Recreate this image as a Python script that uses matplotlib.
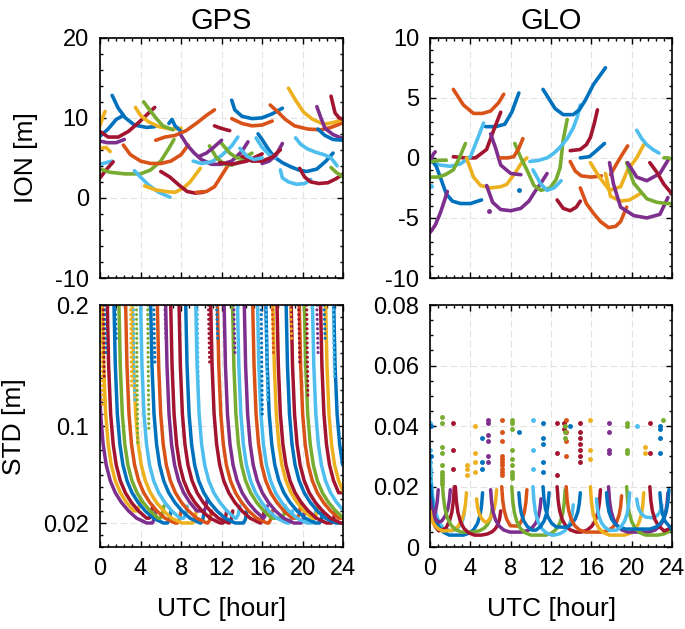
import matplotlib
matplotlib.use("Agg")
import matplotlib.pyplot as plt
from matplotlib.ticker import MultipleLocator, FixedLocator

plt.rcParams["font.family"] = ["Liberation Sans", "DejaVu Sans"]
plt.rcParams["axes.unicode_minus"] = False

# MATLAB default line colours, picked by satellite number
color_order = ["#0072BD", "#D95319", "#EDB120", "#7E2F8E", "#77AC30", "#4DBEEE", "#A2142F"]


def sat_color(sat):
    return color_order[(sat - 1) % 7]


# ---------------- GPS ionosphere arcs (hour, m) ----------------
gps_ion_sat = [3, 1, 8, 7, 4, 10, 5, 15, 2, 14, 22, 9, 16, 17, 21, 18,
               6, 24, 28, 12, 13, 31, 23, 35, 30, 11, 20, 19, 42, 36, 27, 25,
               34, 41, 49, 26, 43, 33, 56, 39, 48]
gps_ion_t = [
    [0.0, 0.3, 0.5],
    [0.0, 0.8, 1.6, 2.3],
    [1.2, 1.8, 2.5, 3.4, 4.6, 5.4],
    [0.0, 0.8, 1.8, 2.8, 3.8, 4.8, 5.4],
    [0.0, 0.7, 1.6, 2.4],
    [3.5, 4.0, 4.8, 5.8, 7.0, 8.0],
    [4.3, 4.9, 5.5, 6.2, 7.2],
    [6.8, 7.1, 7.4, 8.0],
    [5.5, 6.4, 7.4, 8.5, 9.6, 10.5, 11.3],
    [11.3, 11.7, 12.2, 12.8],
    [13.0, 13.3, 14.0, 15.0, 16.0, 17.0, 18.0],
    [13.0, 14.0, 15.0, 16.0, 17.0],
    [16.8, 17.5, 18.3, 19.2, 20.5, 21.8, 22.8, 24.0],
    [18.6, 19.3, 20.1, 21.0, 22.1, 23.0, 24.0],
    [22.8, 23.2, 23.6, 24.0],
    [21.4, 21.8, 22.2, 23.0, 24.0],
    [0.0, 0.6, 1.2],
    [0.1, 0.6, 1.0],
    [0.0, 0.6, 1.3],
    [0.0, 1.0, 2.5, 4.0, 5.0, 6.0, 6.8, 7.3],
    [3.4, 4.0, 4.8, 5.8, 6.9],
    [4.4, 5.5, 6.5, 7.4, 8.2, 8.9, 9.9],
    [2.3, 3.0, 4.0, 5.0, 6.0, 7.0, 8.0, 8.7],
    [6.0, 6.9, 7.8, 8.6, 9.4, 10.2],
    [9.5, 10.5, 11.3, 12.0, 12.8],
    [8.0, 8.6, 9.3, 10.0, 11.0, 12.0, 13.0, 14.0, 14.6],
    [9.2, 10.0, 11.0, 12.0, 13.0, 13.6],
    [10.8, 11.5, 12.3, 13.0, 14.0, 14.5],
    [11.8, 13.0, 14.5, 16.0],
    [15.6, 16.0, 16.6, 17.2, 18.0, 18.8, 19.6, 20.4, 21.4, 22.3, 23.0],
    [15.4, 16.0, 16.7, 17.3],
    [16.0, 16.7, 17.4, 18.0],
    [17.8, 18.0, 18.6, 19.4, 20.2, 20.8],
    [19.3, 19.8, 20.5, 21.3, 22.1, 22.8, 23.4],
    [19.7, 20.2, 20.8, 21.6, 22.5, 23.3, 24.0],
    [22.8, 23.3, 24.0],
    [21.5, 22.2, 23.0, 24.0],
    [12.0, 12.8, 13.5, 14.2, 15.0],
    [14.0, 15.0, 16.0, 17.0, 17.8],
    [9.8, 10.5, 11.2, 12.0],
    [13.8, 14.5, 15.2, 16.0],
]
gps_ion_v = [
    [9.0, 10.2, 10.8],
    [7.7, 8.6, 9.8, 10.3],
    [12.8, 11.2, 10.0, 9.1, 8.8, 8.9],
    [8.3, 7.6, 7.6, 8.3, 9.4, 10.6, 11.3],
    [7.1, 6.9, 6.9, 7.3],
    [11.3, 10.3, 9.5, 8.9, 8.6, 8.7],
    [12.0, 11.0, 10.0, 9.0, 8.5],
    [9.3, 9.8, 9.0, 8.3],
    [7.2, 7.6, 7.8, 8.4, 9.4, 10.3, 11.0],
    [9.0, 8.8, 8.6, 8.4],
    [12.2, 11.0, 10.2, 9.9, 10.0, 10.5, 11.2],
    [9.9, 9.3, 9.0, 9.1, 9.6],
    [11.6, 10.8, 9.8, 9.0, 8.6, 8.5, 8.8, 9.4],
    [13.7, 12.2, 10.7, 9.8, 9.2, 9.4, 9.8],
    [12.7, 10.6, 10.0, 9.8],
    [11.4, 10.0, 8.7, 7.9, 7.4],
    [4.2, 4.4, 4.6],
    [6.2, 6.3, 5.8],
    [2.5, 3.5, 4.5],
    [3.6, 3.2, 3.0, 3.0, 3.5, 4.6, 6.2, 7.3],
    [3.4, 2.6, 1.6, 0.7, 0.1],
    [1.5, 1.0, 0.8, 0.7, 1.2, 2.0, 3.7],
    [6.6, 5.4, 4.6, 4.3, 4.3, 4.6, 5.4, 6.6],
    [3.3, 2.6, 1.6, 0.8, 0.6, 0.7],
    [0.7, 0.8, 1.4, 2.8, 4.4],
    [7.8, 6.6, 5.6, 4.8, 4.2, 4.2, 4.6, 5.8, 7.0],
    [4.6, 4.3, 4.5, 5.3, 6.5, 7.6],
    [6.5, 5.0, 4.2, 4.1, 4.6, 5.2],
    [4.4, 4.2, 4.6, 5.5],
    [8.0, 7.3, 6.1, 5.1, 4.4, 3.9, 3.5, 3.3, 3.6, 4.6, 5.6],
    [7.5, 6.3, 5.4, 5.0],
    [4.3, 4.6, 5.4, 6.8],
    [3.5, 2.5, 2.0, 1.7, 1.8, 2.3],
    [7.5, 6.7, 6.1, 5.7, 5.4, 5.0, 4.0],
    [3.7, 2.6, 2.0, 1.8, 1.9, 2.4, 3.0],
    [3.8, 3.2, 2.6],
    [8.6, 7.8, 7.3, 7.2],
    [6.8, 5.6, 5.0, 5.0, 5.6],
    [5.2, 4.6, 4.6, 5.1, 6.0],
    [5.2, 5.6, 6.3, 7.2],
    [6.2, 5.2, 4.8, 5.0],
]

# ---------------- GLONASS ionosphere arcs (hour, m) ----------------
glo_ion_sat = [2, 1, 7, 6, 8, 4, 11, 5, 12, 3, 18, 25, 19, 9, 13, 27,
               15, 14, 16, 23, 30, 21, 22, 10, 17, 32, 26, 39, 28, 20, 33]
glo_ion_t = [
    [2.3, 3.3, 4.3, 5.2, 6.0, 6.8, 7.3],
    [5.5, 6.5, 7.4, 8.1, 8.8],
    [2.3, 3.4, 4.5, 5.6, 6.3, 7.0],
    [0.0, 1.0, 2.0, 3.0, 4.0, 4.8, 5.3],
    [0.0, 0.6, 1.0, 1.6, 2.2, 3.0, 4.0, 5.1],
    [0.0, 0.5, 1.0, 1.4, 1.7],
    [0.0, 0.3, 0.5],
    [0.0, 0.8, 1.5, 2.3, 2.9, 3.5],
    [0.2, 0.9, 1.6],
    [3.6, 4.3, 5.0, 6.0, 7.0, 7.6, 8.4, 9.0, 9.6],
    [5.6, 6.2, 7.0, 8.0, 9.0, 9.8, 10.4, 11.0, 11.6],
    [6.0, 6.5, 7.0, 8.0, 9.0],
    [8.4, 9.0, 9.6, 10.3, 11.0, 11.9, 12.5, 12.9, 13.2, 13.6],
    [7.0, 7.7, 8.3, 8.8, 9.2],
    [9.9, 10.8, 11.6, 12.3, 12.9, 13.6, 14.2, 14.6, 14.9],
    [10.2, 11.0, 11.6, 12.3, 13.0],
    [11.2, 11.8, 12.4, 13.2, 14.2, 14.8, 15.4, 16.2, 16.8, 17.4],
    [13.9, 14.9, 15.5, 15.9, 16.3, 16.6],
    [13.9, 14.4, 15.0, 16.0, 17.0],
    [14.9, 15.5, 16.2, 16.9, 17.7, 18.4, 18.9, 19.5],
    [17.9, 18.5, 19.0, 19.6],
    [12.6, 13.2, 13.9, 14.5, 14.9],
    [14.9, 15.8, 16.5, 17.3],
    [15.9, 16.8, 17.8, 18.9, 19.6, 20.5, 21.2],
    [17.4, 17.9, 18.9, 19.8, 20.8],
    [17.8, 18.2, 18.9, 20.2, 21.5, 22.8, 23.6],
    [19.5, 20.2, 21.5, 22.5, 23.5, 24.0],
    [19.6, 20.5, 21.5, 22.8, 23.6],
    [21.8, 22.5, 23.2, 24.0],
    [20.5, 21.0, 21.5, 22.1, 22.7],
    [23.2, 23.6, 24.0],
]
glo_ion_v = [
    [5.7, 4.4, 3.7, 3.7, 3.9, 4.6, 5.3],
    [2.6, 2.6, 2.8, 3.8, 5.4],
    [0.1, 0.0, 0.0, 0.7, 2.3, 3.8],
    [-0.3, -0.6, -0.7, -0.5, 0.1, 1.8, 2.9],
    [0.0, -0.7, -1.6, -3.0, -3.6, -3.8, -3.8, -3.5],
    [-6.2, -5.6, -4.6, -3.6, -2.8],
    [-0.3, 0.3, 0.5],
    [-1.6, -1.6, -1.4, -1.0, 0.0, 1.2],
    [-0.3, -0.2, -0.2],
    [0.0, -1.6, -2.3, -2.5, -2.4, -2.2, -1.3, -0.5, 0.0],
    [-2.3, -3.7, -4.3, -4.4, -4.2, -3.6, -2.8, -2.1, -1.3],
    [2.0, 0.8, -0.6, -1.3, -1.4],
    [1.2, 0.0, -1.0, -2.3, -2.7, -2.5, -1.8, -0.8, 1.5, 3.2],
    [0.0, 0.0, 0.1, 0.8, 1.6],
    [-0.3, -0.2, 0.0, 0.4, 0.9, 1.6, 2.5, 3.4, 4.4],
    [-1.0, -2.2, -2.7, -2.5, -1.9],
    [5.7, 4.9, 4.1, 3.6, 3.6, 4.0, 4.8, 6.1, 6.8, 7.5],
    [0.6, 0.7, 1.1, 1.7, 2.9, 4.0],
    [-0.3, -1.1, -1.5, -1.6, -1.5],
    [-2.5, -3.8, -4.6, -5.3, -5.8, -5.7, -5.3, -4.1],
    [-1.4, -0.5, 0.2, 1.0],
    [-3.5, -4.2, -4.4, -4.1, -3.6],
    [0.0, 0.1, 0.6, 1.2],
    [-0.4, -1.6, -2.7, -2.4, -1.0, 0.0, 1.1],
    [-1.3, -3.2, -3.6, -3.5, -3.0],
    [-0.4, -2.2, -4.1, -4.8, -5.0, -4.7, -3.3],
    [-0.4, -2.1, -3.4, -3.7, -3.8, -3.8],
    [-0.4, -1.6, -1.9, -1.3, -0.2],
    [-0.4, -1.2, -2.2, -3.0],
    [2.3, 1.6, 1.1, 0.7, 0.4],
    [0.0, 0.0, -0.1],
]
glo_ion_dot_sat = [1, 4, 6]
glo_ion_dot_t = [8.8, 5.8, 0.1]
glo_ion_dot_v = [-2.7, -4.4, -2.3]

# ---------------- GPS STD: arcs after convergence ----------------
# convergence curve read off one arc: hours after start -> STD (m)
conv_dt = [0.0, 0.12, 0.25, 0.45, 0.7, 1.0, 1.4, 1.9, 2.5, 3.2, 4.0, 5.0]
conv_std = [0.26, 0.20, 0.15, 0.11, 0.085, 0.068, 0.055, 0.045, 0.037, 0.030, 0.024, 0.020]
# rise of STD when the satellite sets: hours relative to arc end -> STD increase
hook_dt = [-0.35, -0.15, 0.0]
hook_rise = [0.0, 0.003, 0.010]

gps_std_sat = [4, 3, 7, 1, 5, 2, 10, 6, 8, 9, 11, 14, 21, 15, 13, 28, 16,
               18, 12, 20, 25, 23, 27, 22, 17, 35, 29, 42, 30, 19, 34, 49, 24, 36]
gps_std_start = [-0.39, 0.11, 0.6, 1.26, 1.75, 2.41, 3.07, 3.89, 4.88, 5.54, 6.36,
                 6.86, 7.68, 8.34, 9.33, 10.81, 11.47, 12.13, 12.96, 13.45, 14.12,
                 14.95, 15.43, 16.25, 16.95, 17.35, 18.25, 18.75, 19.55, 20.05,
                 20.85, 21.65, 22.15, 22.95]
gps_std_end = [5.5, 4.0, 5.2, 7.0, 6.3, 8.0, 9.5, 8.6, 10.3, 11.0, 10.6, 12.5, 13.1,
               14.5, 13.8, 16.2, 17.0, 16.5, 18.3, 19.0, 20.2, 19.8, 21.3, 22.0,
               21.5, 23.2, 24.5, 24.5, 24.5, 24.5, 24.5, 24.5, 24.5, 24.5]

# sparse first epochs (dotted columns): hour, lowest STD reached
gps_col_sat = [3, 1, 7, 8, 6, 10, 5, 12, 4, 15, 13, 14, 22, 18, 29, 20, 2, 17, 21, 28, 11, 36, 27]
gps_col_t = [0.15, 0.45, 0.3, 1.5, 3.3, 3.0, 4.7, 3.6, 6.4, 5.3, 9.6, 10.7, 11.5, 13.2,
             15.9, 16.4, 17.0, 18.8, 20.4, 19.6, 21.4, 22.1, 23.0]
gps_col_low = [0.115, 0.16, 0.14, 0.17, 0.12, 0.13, 0.098, 0.085, 0.17, 0.15, 0.117,
               0.15, 0.17, 0.16, 0.11, 0.12, 0.16, 0.17, 0.125, 0.15, 0.16, 0.17, 0.14]

# ---------------- GLONASS STD: U-shaped arcs ----------------
# one arm of an arc: hours from arc edge -> fraction of (peak - floor)
arm_dt = [0.0, 0.1, 0.25, 0.5, 0.85, 1.3, 1.9]
arm_frac = [1.0, 0.7, 0.47, 0.28, 0.14, 0.05, 0.0]

glo_std_sat = [6, 1, 7, 4, 11, 3, 5, 14, 10, 18, 2, 12, 13, 15, 21, 22, 9, 17,
               25, 19, 20, 28, 29, 36, 34]
glo_std_start = [0.0, 0.0, 0.0, 0.0, 0.0, 0.0, 1.2, 2.5, 4.6, 6.0, 7.1, 8.1, 10.2,
                 8.8, 12.6, 11.2, 13.5, 15.9, 17.7, 19.5, 20.5, 21.8, 22.8, 17.5, 16.5]
glo_std_end = [3.4, 5.2, 2.4, 0.8, 2.0, 3.6, 6.2, 7.0, 6.6, 11.0, 9.6, 13.4, 14.2,
               11.8, 16.9, 14.9, 19.0, 21.2, 23.6, 24.5, 23.0, 24.5, 24.5, 23.7, 19.8]
glo_std_lpeak = [0.030, 0.024, 0.014, 0.012, 0.016, 0.012, 0.022, 0.020, 0.016, 0.019,
                 0.020, 0.020, 0.020, 0.018, 0.020, 0.020, 0.020, 0.020, 0.020, 0.020,
                 0.016, 0.020, 0.018, 0.018, 0.016]
glo_std_rpeak = [0.012, 0.018, 0.020, 0.019, 0.019, 0.018, 0.014, 0.012, 0.019, 0.016,
                 0.019, 0.019, 0.014, 0.018, 0.019, 0.018, 0.017, 0.018, 0.018, 0.012,
                 0.014, 0.012, 0.008, 0.019, 0.018]
glo_std_floor = [0.005, 0.004, 0.004, 0.006, 0.007, 0.005, 0.005, 0.004, 0.007, 0.005,
                 0.005, 0.004, 0.004, 0.005, 0.005, 0.006, 0.005, 0.004, 0.005, 0.004,
                 0.009, 0.005, 0.005, 0.006, 0.005]

# isolated high STD epochs at arc edges
glo_spike_sat = [6, 1, 5, 7, 3, 10, 8, 4, 2, 12, 15, 13, 22, 14, 21, 9, 19, 29,
                 28, 17, 25, 26, 20, 24, 35, 36, 33]
glo_spike_t = [0.0, 0.1, 1.16, 2.3, 3.64, 4.46, 5.1, 5.7, 7.1, 8.1, 8.8, 10.25, 11.2,
               12.6, 13.3, 13.5, 13.4, 13.9, 14.9, 15.9, 17.7, 19.5, 20.5, 21.3,
               21.8, 22.8, 23.1]
glo_spike_v = [
    [0.041, 0.032, 0.028, 0.026, 0.024, 0.022],
    [0.040, 0.030],
    [0.043, 0.041, 0.033, 0.031, 0.027, 0.025, 0.024, 0.023, 0.022, 0.021],
    [0.041, 0.032, 0.026],
    [0.027, 0.026, 0.024],
    [0.040, 0.031, 0.028, 0.025],
    [0.036, 0.028, 0.026],
    [0.042, 0.041, 0.037, 0.035, 0.030, 0.028],
    [0.042, 0.038, 0.035, 0.030, 0.029, 0.028, 0.027, 0.026, 0.025, 0.024],
    [0.042, 0.041, 0.039, 0.032, 0.029, 0.027, 0.025, 0.024, 0.023],
    [0.038],
    [0.042, 0.032, 0.026],
    [0.041, 0.036, 0.034, 0.028, 0.025],
    [0.041, 0.031, 0.024],
    [0.041, 0.039],
    [0.042, 0.038, 0.035, 0.030],
    [0.040, 0.038, 0.036],
    [0.040],
    [0.041, 0.038, 0.036, 0.034, 0.032, 0.030, 0.028],
    [0.042, 0.032, 0.029],
    [0.041, 0.038, 0.032, 0.031],
    [0.041, 0.040, 0.032, 0.031],
    [0.040],
    [0.033, 0.031],
    [0.041, 0.031],
    [0.040, 0.039, 0.036, 0.031],
    [0.042],
]

# ---------------- figure ----------------
fig = plt.figure(figsize=(6.85, 6.29), dpi=100)
ax_gi = fig.add_axes([0.146, 0.558, 0.355, 0.382])
ax_ri = fig.add_axes([0.628, 0.558, 0.353, 0.382])
ax_gs = fig.add_axes([0.146, 0.130, 0.355, 0.385])
ax_rs = fig.add_axes([0.628, 0.130, 0.353, 0.385])

LW = 2.6

for sat, tt, vv in zip(gps_ion_sat, gps_ion_t, gps_ion_v):
    ax_gi.plot(tt, vv, color=sat_color(sat), lw=LW, solid_capstyle="round")

for sat, tt, vv in zip(glo_ion_sat, glo_ion_t, glo_ion_v):
    ax_ri.plot(tt, vv, color=sat_color(sat), lw=LW, solid_capstyle="round")
for sat, t, v in zip(glo_ion_dot_sat, glo_ion_dot_t, glo_ion_dot_v):
    ax_ri.plot(t, v, ".", color=sat_color(sat), ms=5)

# GPS STD
for sat, t0, t1 in zip(gps_std_sat, gps_std_start, gps_std_end):
    tt = [t0 + d for d in conv_dt if t0 + d < t1 + hook_dt[0]]
    vv = conv_std[:len(tt)]
    if tt[-1] < t1 + hook_dt[0]:
        tt.append(t1 + hook_dt[0])
        vv.append(vv[-1])
    base = vv[-1]
    tt += [t1 + d for d in hook_dt[1:]]
    vv += [base + r for r in hook_rise[1:]]
    ax_gs.plot(tt, vv, color=sat_color(sat), lw=2.5, solid_capstyle="round")

for sat, t, low in zip(gps_col_sat, gps_col_t, gps_col_low):
    ax_gs.plot([t, t + 0.12], [0.2, low], color=sat_color(sat), lw=2.2,
               ls=(0, (0.05, 1.5)), dash_capstyle="round")

# GLONASS STD
for sat, t0, t1, lp, rp, fl in zip(glo_std_sat, glo_std_start, glo_std_end,
                                   glo_std_lpeak, glo_std_rpeak, glo_std_floor):
    half = (t1 - t0) / 2
    left = [(t0 + d, fl + f * (lp - fl)) for d, f in zip(arm_dt, arm_frac) if d < half]
    right = [(t1 - d, fl + f * (rp - fl)) for d, f in zip(arm_dt, arm_frac) if d < half][::-1]
    pts = left + right
    ax_rs.plot([p[0] for p in pts], [p[1] for p in pts], color=sat_color(sat),
               lw=2.5, solid_capstyle="round")

for sat, t, vals in zip(glo_spike_sat, glo_spike_t, glo_spike_v):
    ax_rs.plot([t] * len(vals), vals, ".", color=sat_color(sat), ms=5)

# ---------------- axes styling (MATLAB look) ----------------
for ax in (ax_gi, ax_ri, ax_gs, ax_rs):
    ax.set_xlim(0, 24)
    ax.xaxis.set_major_locator(FixedLocator([0, 4, 8, 12, 16, 20, 24]))
    ax.xaxis.set_minor_locator(MultipleLocator(0.8))
    ax.tick_params(which="both", direction="in", top=True, right=True, width=1.0,
                   labelsize=17, pad=8)
    ax.tick_params(which="major", length=4)
    ax.tick_params(which="minor", length=2.5)
    ax.grid(True, which="major", color="#e3e3e3", lw=0.8, ls=(0, (6, 3)))
    ax.set_axisbelow(True)
    for sp in ax.spines.values():
        sp.set_linewidth(1.2)

ax_gi.set_ylim(-10, 20)
ax_gi.yaxis.set_major_locator(FixedLocator([-10, 0, 10, 20]))
ax_gi.yaxis.set_minor_locator(MultipleLocator(2))
ax_ri.set_ylim(-10, 10)
ax_ri.yaxis.set_major_locator(FixedLocator([-10, -5, 0, 5, 10]))
ax_ri.yaxis.set_minor_locator(MultipleLocator(1))
ax_gs.set_ylim(0, 0.2)
ax_gs.yaxis.set_major_locator(FixedLocator([0.02, 0.1, 0.2]))
ax_gs.yaxis.set_minor_locator(MultipleLocator(0.01))
ax_gs.set_yticklabels(["0.02", "0.1", "0.2"])
ax_rs.set_ylim(0, 0.08)
ax_rs.yaxis.set_major_locator(FixedLocator([0, 0.02, 0.04, 0.06, 0.08]))
ax_rs.yaxis.set_minor_locator(MultipleLocator(0.005))
ax_rs.set_yticklabels(["0", "0.02", "0.04", "0.06", "0.08"])

ax_gi.set_xticklabels([])
ax_ri.set_xticklabels([])

ax_gi.set_title("GPS", fontsize=21, pad=6)
ax_ri.set_title("GLO", fontsize=21, pad=6)
ax_gi.set_ylabel("ION [m]", fontsize=19, labelpad=12)
ax_gs.set_ylabel("STD [m]", fontsize=19, labelpad=12)
ax_gs.set_xlabel("UTC [hour]", fontsize=19, labelpad=12)
ax_rs.set_xlabel("UTC [hour]", fontsize=19, labelpad=12)

fig.savefig("out.png", dpi=100)
